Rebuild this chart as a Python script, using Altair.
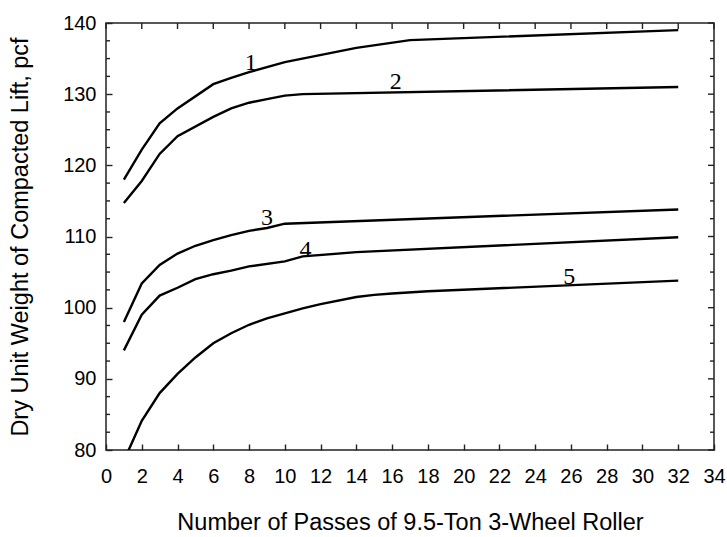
import altair as alt
import pandas as pd

# Compaction curves: dry unit weight (pcf) versus number of roller passes
c1_x = [1, 2, 3, 4, 6, 7, 8, 10, 14, 17, 32]
c1_y = [118.0, 122.2, 125.9, 128.0, 131.4, 132.3, 133.1, 134.5, 136.5, 137.6, 139.0]

c2_x = [1, 2, 3, 4, 6, 7, 8, 9, 10, 11, 32]
c2_y = [114.7, 117.8, 121.6, 124.1, 126.8, 128.0, 128.8, 129.3, 129.8, 130.0, 131.0]

c3_x = [1, 2, 3, 4, 5, 6, 7, 8, 9, 10, 32]
c3_y = [98.0, 103.4, 106.0, 107.6, 108.7, 109.5, 110.2, 110.8, 111.2, 111.8, 113.8]

c4_x = [1, 2, 3, 4, 5, 6, 7, 8, 10, 11, 14, 32]
c4_y = [94.0, 99.0, 101.7, 102.8, 104.0, 104.7, 105.2, 105.8, 106.5, 107.2, 107.8, 109.9]

c5_x = [1, 2, 3, 4, 5, 6, 7, 8, 9, 10, 11, 12, 14, 15, 16, 18, 32]
c5_y = [78.5, 84.1, 88.0, 90.7, 93.0, 95.0, 96.4, 97.6, 98.5, 99.2, 99.9, 100.5,
        101.5, 101.8, 102.0, 102.3, 103.8]

# Curve numbers written beside each line
label_text = ["1", "2", "3", "4", "5"]
label_x = [8.1, 16.2, 9.0, 11.15, 25.9]
label_y = [134.5, 131.9, 112.8, 108.3, 104.5]

# Tick values
x_ticks = list(range(0, 35, 2))
y_major = [80, 90, 100, 110, 120, 130, 140]
y_minor = [82.5, 85, 87.5, 92.5, 95, 97.5, 102.5, 105, 107.5, 112.5, 115, 117.5,
           122.5, 125, 127.5, 132.5, 135, 137.5]

W, H = 608, 427
FRAME = "#222222"
TICK = 6
MINOR = 4
TW = 1.4

rows = []
for name, xs, ys in [("1", c1_x, c1_y), ("2", c2_x, c2_y), ("3", c3_x, c3_y),
                     ("4", c4_x, c4_y), ("5", c5_x, c5_y)]:
    for i, (xv, yv) in enumerate(zip(xs, ys)):
        rows.append({"curve": name, "order": i, "passes": xv, "weight": yv})
curves = pd.DataFrame(rows)
labels = pd.DataFrame({"t": label_text, "passes": label_x, "weight": label_y})

xscale = alt.Scale(domain=[0, 34], nice=False, zero=False)
yscale = alt.Scale(domain=[80, 140], nice=False, zero=False)

# Axes are pulled inside the frame by the tick length so that their ticks point inward
x_axis = alt.Axis(values=x_ticks, title="Number of Passes of 9.5-Ton 3-Wheel Roller",
                  offset=-TICK, ticks=True, tickSize=TICK, tickWidth=TW, tickColor=FRAME,
                  domain=False, grid=False, labelPadding=16,
                  labelOverlap=False, labelFlush=False,
                  labelFontSize=20, titleFontSize=23.5, titlePadding=24,
                  labelFont="Liberation Sans", titleFont="Liberation Sans",
                  titleFontWeight="normal", labelColor="black", titleColor="black")
y_axis = alt.Axis(values=y_major, title="Dry Unit Weight of Compacted Lift, pcf",
                  offset=-TICK, ticks=True, tickSize=TICK, tickWidth=TW, tickColor=FRAME,
                  domain=False, grid=False, labelPadding=10,
                  labelOverlap=False, labelFlush=False,
                  labelFontSize=20, titleFontSize=23.5, titlePadding=30,
                  labelFont="Liberation Sans", titleFont="Liberation Sans",
                  titleFontWeight="normal", labelColor="black", titleColor="black")

X = alt.X("passes:Q", scale=xscale, axis=x_axis)
Y = alt.Y("weight:Q", scale=yscale, axis=y_axis)

lines = alt.Chart(curves).mark_line(color="black", strokeWidth=2.4, clip=True).encode(
    x=X, y=Y, detail="curve:N", order="order:Q"
)

texts = alt.Chart(labels).mark_text(
    font="Liberation Serif", fontSize=24, color="black", baseline="middle", dy=1
).encode(x=X, y=Y, text="t:N")

# Remaining inward ticks: along the top, on the right, and minor ticks on both sides
top_data = alt.Data(values=[{"passes": v} for v in x_ticks])
maj_data = alt.Data(values=[{"weight": v} for v in y_major])
min_data = alt.Data(values=[{"weight": v} for v in y_minor])

rule_style = dict(color=FRAME, strokeWidth=TW)
top_ticks = alt.Chart(top_data).mark_rule(**rule_style).encode(
    x=X, y=alt.value(0), y2=alt.value(TICK))
left_minor = alt.Chart(min_data).mark_rule(**rule_style).encode(
    y=Y, x=alt.value(0), x2=alt.value(MINOR))
right_major = alt.Chart(maj_data).mark_rule(**rule_style).encode(
    y=Y, x=alt.value(W - TICK), x2=alt.value(W))
right_minor = alt.Chart(min_data).mark_rule(**rule_style).encode(
    y=Y, x=alt.value(W - MINOR), x2=alt.value(W))

chart = alt.layer(
    lines, texts, top_ticks, left_minor, right_major, right_minor
).properties(
    width=W, height=H,
    autosize=alt.AutoSizeParams(type="none"),
    padding={"left": 106, "top": 23, "right": 13, "bottom": 87},
    background="white",
).configure_view(
    stroke=FRAME, strokeWidth=1.5
)

chart.save("out.html", embed_options={"renderer": "svg", "actions": False})
